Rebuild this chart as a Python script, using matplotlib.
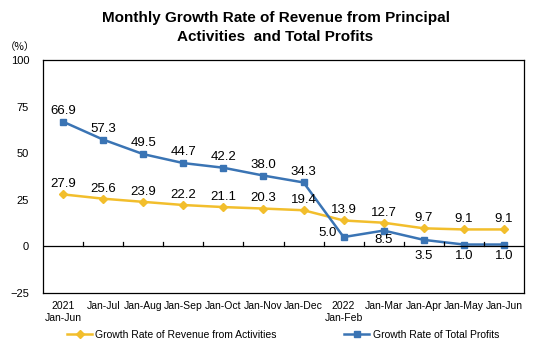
import numpy as np
import matplotlib
matplotlib.use("Agg")
import matplotlib.pyplot as plt

plt.rcParams['font.family'] = ['Liberation Sans', 'DejaVu Sans']

categories = ["2021\nJan-Jun", "Jan-Jul", "Jan-Aug", "Jan-Sep", "Jan-Oct", "Jan-Nov", "Jan-Dec",
              "2022\nJan-Feb", "Jan-Mar", "Jan-Apr", "Jan-May", "Jan-Jun"]
revenue = [27.9, 25.6, 23.9, 22.2, 21.1, 20.3, 19.4, 13.9, 12.7, 9.7, 9.1, 9.1]
profits = [66.9, 57.3, 49.5, 44.7, 42.2, 38.0, 34.3, 5.0, 8.5, 3.5, 1.0, 1.0]

yellow = "#F2BE2C"
blue = "#3A74B4"

fig = plt.figure(figsize=(5.51, 3.55), dpi=100)
ax = fig.add_axes([43/551, 1-293/355, 481/551, 233/355])

x = np.arange(len(categories))
ax.plot(x, revenue, color=yellow, lw=1.8, marker="D", ms=4.5, label="Growth Rate of Revenue from Activities")
ax.plot(x, profits, color=blue, lw=1.8, marker="s", ms=4.5, label="Growth Rate of Total Profits")

for i, v in enumerate(revenue):
    ax.annotate(f"{v:.1f}", (i, v), xytext=(0, 3), textcoords="offset points",
                ha="center", va="bottom", fontsize=9.5)
# label offsets for the profit line (below the points near zero)
below = {8: -2.5, 9: -7, 10: -4, 11: -4}
for i, v in enumerate(profits):
    if i == 7:
        off, ha, va = (-5, 3), "right", "center"
    elif i in below:
        off, ha, va = (0, below[i]), "center", "top"
    else:
        off, ha, va = (0, 3.5), "center", "bottom"
    ax.annotate(f"{v:.1f}", (i, v), xytext=off, textcoords="offset points",
                ha=ha, va=va, fontsize=9.5)

ax.set_xlim(-0.5, len(categories) - 0.5)
ax.set_ylim(-25, 100)
ax.set_yticks([-25, 0, 25, 50, 75, 100])
ax.tick_params(axis="y", length=0, labelsize=8, pad=10)
ax.set_xticks(x)
ax.set_xticklabels(categories, fontsize=7.5)
ax.tick_params(axis="x", length=0, pad=6)

ax.axhline(0, color="black", lw=0.9)
for b in np.arange(0.5, len(categories) - 0.5):
    ax.plot([b, b], [0, 2.5], color="black", lw=0.9)

for s in ax.spines.values():
    s.set_linewidth(0.9)

fig.text(20/551, 1-47/355, "（%）", fontsize=7.5, ha="center", va="center",
         family=['Noto Sans CJK SC', 'DejaVu Sans'])
fig.text(0.5, 1-18/355, "Monthly Growth Rate of Revenue from Principal", fontsize=11,
         fontweight="bold", ha="center", va="center")
fig.text(0.5, 1-37/355, "Activities  and Total Profits", fontsize=11,
         fontweight="bold", ha="center", va="center")

fig.legend(loc="center", bbox_to_anchor=(283/551, 1-335/355), ncol=2, frameon=False,
           fontsize=7.5, columnspacing=6.5, handlelength=2.4, handletextpad=0.3)

fig.savefig("out.png", dpi=100)
